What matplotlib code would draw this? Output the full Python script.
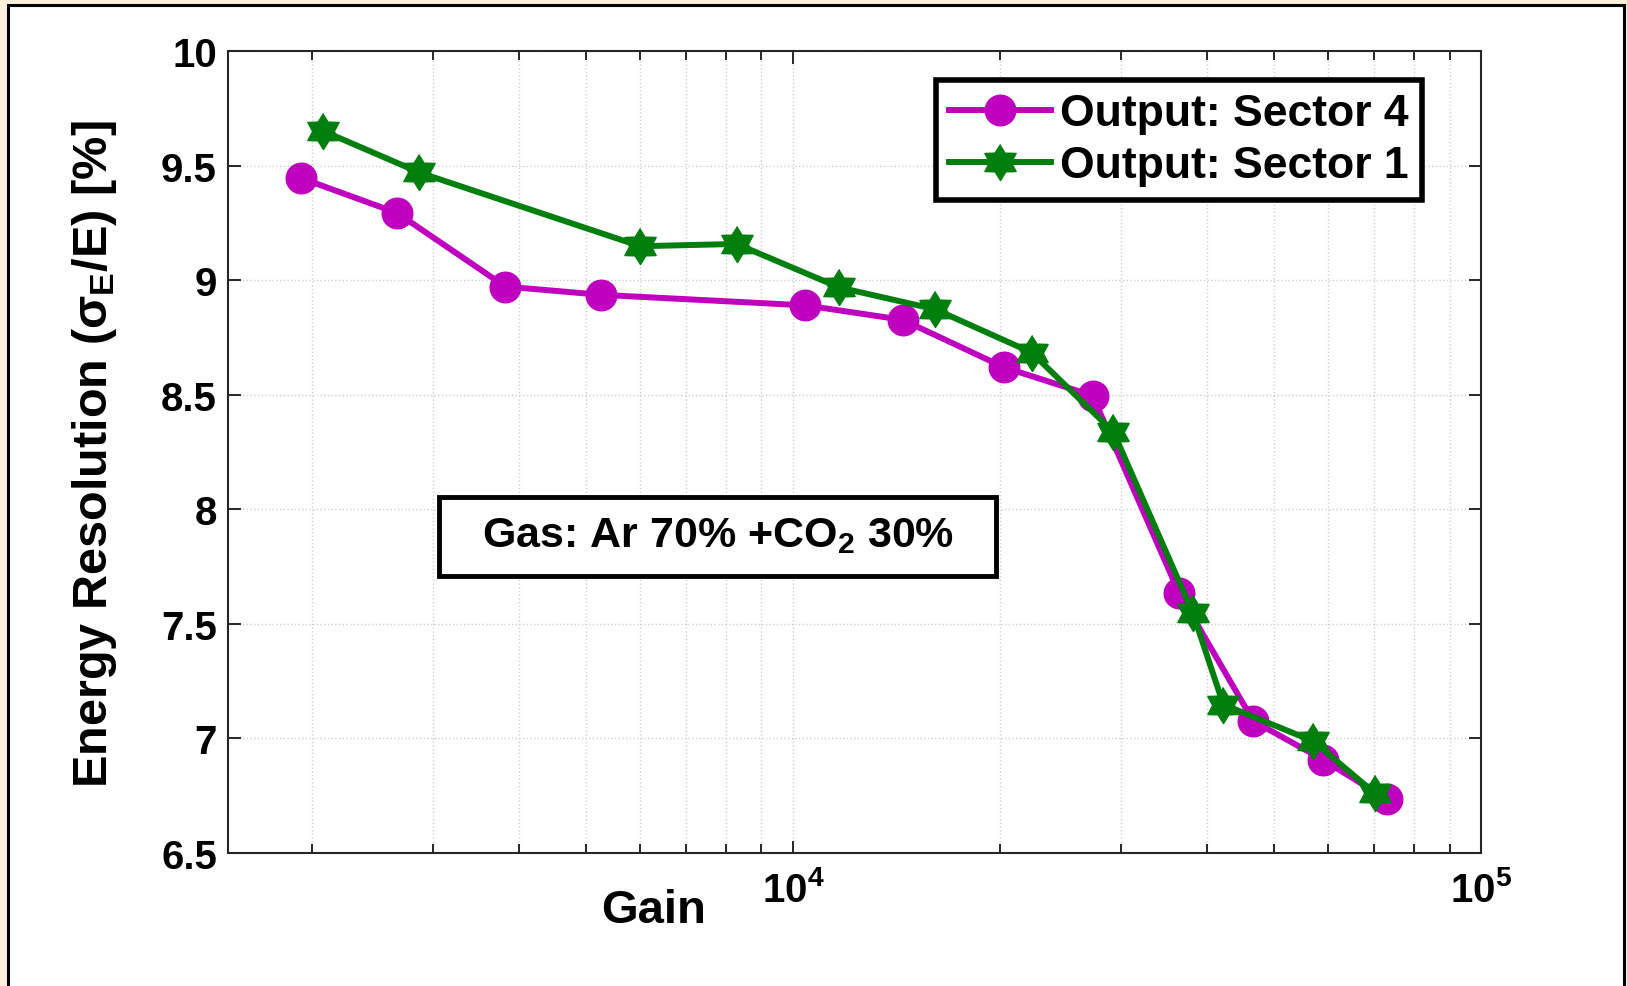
import numpy as np
import matplotlib.pyplot as plt
from matplotlib import ticker
from matplotlib.patches import Rectangle
from matplotlib.path import Path

plt.rcParams['font.family'] = ['Liberation Sans', 'DejaVu Sans']
plt.rcParams['font.weight'] = 'bold'
plt.rcParams['mathtext.fontset'] = 'custom'
plt.rcParams['mathtext.rm'] = 'Liberation Sans:bold'
plt.rcParams['mathtext.bf'] = 'Liberation Sans:bold'
plt.rcParams['mathtext.it'] = 'Liberation Sans:bold'
plt.rcParams['mathtext.default'] = 'bf'

# Energy resolution vs. gain for two readout sectors
gain_s4 = [1930, 2660, 3820, 5260, 10420, 14430, 20290, 27260, 36430, 46670, 58880, 72970]
res_s4 = [9.445, 9.293, 8.972, 8.936, 8.890, 8.827, 8.619, 8.496, 7.633, 7.076, 6.908, 6.734]
gain_s1 = [2072, 2863, 6000, 8280, 11680, 16090, 22230, 29220, 38110, 42220, 57030, 70150]
res_s1 = [9.652, 9.470, 9.148, 9.158, 8.968, 8.873, 8.684, 8.338, 7.549, 7.148, 6.988, 6.760]

label_s4 = 'Output: Sector 4'
label_s1 = 'Output: Sector 1'
gas_text = r'Gas: Ar 70% +CO$_{2}$ 30%'
y_ticks = [6.5, 7, 7.5, 8, 8.5, 9, 9.5, 10]

# six-pointed star (hexagram) marker
ang = np.pi / 2 + np.arange(12) * np.pi / 6
rad = np.where(np.arange(12) % 2 == 0, 1.0, 0.6)
hexagram = Path(np.column_stack([rad * np.cos(ang), rad * np.sin(ang)]))

fig = plt.figure(figsize=(16.27, 9.87), dpi=100)
fig.patch.set_facecolor('#fcf0da')
# white page with a black frame
page = Rectangle((8 / 1627, -0.02), 1616 / 1627, 1.02 - 6 / 987,
                 transform=fig.transFigure, facecolor='white',
                 edgecolor='black', linewidth=2.2, zorder=-10)
fig.patches.append(page)

ax = fig.add_axes([228 / 1627, 1 - 854 / 987, 1253 / 1627, 802 / 987])
ax.set_zorder(1)
ax.set_facecolor('white')

ax.plot(gain_s4, res_s4, '-o', color='#bf00bf', linewidth=4.3,
        markersize=22, label=label_s4, zorder=3)
ax.plot(gain_s1, res_s1, '-', marker=hexagram, color='#007f0e', linewidth=4.3,
        markersize=26, label=label_s1, zorder=4)

ax.set_xscale('log')
ax.set_xlim(1510, 1e5)
ax.set_ylim(6.5, 10)
ax.set_yticks(y_ticks)
ax.yaxis.set_major_formatter(ticker.FuncFormatter(lambda v, p: f'{v:g}'))
ax.xaxis.set_major_locator(ticker.LogLocator(base=10))
ax.xaxis.set_minor_locator(ticker.LogLocator(base=10, subs=np.arange(2, 10)))
ax.xaxis.set_major_formatter(ticker.FuncFormatter(
    lambda v, p: r'$\mathbf{10^{%d}}$' % round(np.log10(v))))
ax.xaxis.set_minor_formatter(ticker.NullFormatter())

ax.grid(True, which='major', color='#cfcfcf', linestyle=':', linewidth=1.0)
ax.grid(True, which='minor', axis='x', color='#cfcfcf', linestyle=':', linewidth=1.0)
ax.set_axisbelow(True)

ax.tick_params(which='both', direction='in', top=True, right=True, width=1.4,
               color='#262626')
ax.tick_params(which='major', length=9, labelsize=29, pad=8)
ax.tick_params(which='minor', length=6.5)
ax.tick_params(axis='x', which='major', pad=12)
for s in ax.spines.values():
    s.set_linewidth(1.5)
    s.set_color('#262626')

fig.text(95 / 1627, 1 - 454 / 987, r'Energy Resolution ($\sigma_{E}$/E) [%]',
         fontsize=35, fontweight='bold', rotation=90, ha='center', va='center')
fig.text(654 / 1627, 1 - 911 / 987, 'Gain', fontsize=34, fontweight='bold',
         ha='center', va='center')

# gas mixture note in a framed box
ax.add_patch(Rectangle((0.168, 0.345), 0.445, 0.099, transform=ax.transAxes,
                       facecolor='white', edgecolor='black', linewidth=3.5,
                       zorder=5))
ax.text(0.391, 0.397, gas_text, transform=ax.transAxes, fontsize=31,
        fontweight='bold', ha='center', va='center', zorder=6)

leg = ax.legend(loc='upper right', bbox_to_anchor=(0.953, 0.964),
                borderaxespad=0, fontsize=32, handlelength=2.3,
                handletextpad=0.2, labelspacing=0.25, borderpad=0.3,
                fancybox=False, framealpha=1, edgecolor='black')
leg.get_frame().set_linewidth(4)
leg.set_zorder(7)

fig.savefig('out.png', dpi=100, facecolor=fig.get_facecolor())
